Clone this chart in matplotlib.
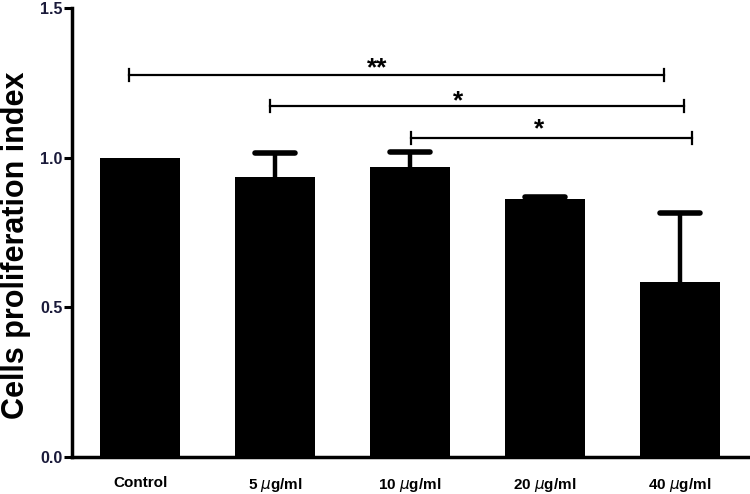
import numpy as np
import matplotlib
matplotlib.use('Agg')
import matplotlib.pyplot as plt

plt.rcParams['font.family'] = ['Liberation Sans', 'DejaVu Sans']

groups = ['Control', '5 $\\mu$g/ml', '10 $\\mu$g/ml', '20 $\\mu$g/ml', '40 $\\mu$g/ml']
means = [1.0, 0.935, 0.97, 0.86, 0.585]
sem = [0.0, 0.08, 0.05, 0.008, 0.23]

# significance brackets (x in category units, y in data units)
brk_start = [-0.08, 0.96, 2.01]
brk_end = [3.88, 4.03, 4.09]
brk_y = [1.276, 1.173, 1.066]
brk_text_x = [1.76, 2.36, 2.955]
brk_text_y = [1.316, 1.206, 1.113]
brk_label = ['**', '*', '*']

fig = plt.figure(figsize=(7.5, 4.94), dpi=100)
ax = fig.add_axes([0.096, 0.075, 0.904, 0.909])

x = np.arange(len(groups))
m = np.array(means)
s = np.array(sem)
ax.bar(x, m, width=0.59, color='black', zorder=2)
# upper-only error bars, skip the ones with no spread
has_err = s > 0
ax.vlines(x[has_err], m[has_err], m[has_err] + s[has_err], color='black', lw=3.2, zorder=1)
ax.hlines(m[has_err] + s[has_err], x[has_err] - 0.15, x[has_err] + 0.15, color='black',
          lw=4, capstyle='round', zorder=3)

for s0, e0, y, tx, ty, lab in zip(brk_start, brk_end, brk_y, brk_text_x, brk_text_y, brk_label):
    ax.plot([s0, e0], [y, y], color='black', lw=1.6)
    ax.plot([s0, s0], [y - 0.02, y + 0.02], color='black', lw=1.6)
    ax.plot([e0, e0], [y - 0.02, y + 0.02], color='black', lw=1.6)
    # star glyph sits ~0.04 data units above its baseline
    ax.text(tx, ty - 0.041, lab, ha='center', va='baseline', fontsize=19, fontweight='bold')

ax.set_xlim(-0.505, 4.52)
ax.set_ylim(0, 1.5)
ax.set_yticks([0.0, 0.5, 1.0, 1.5])
ax.set_yticklabels(['0.0', '0.5', '1.0', '1.5'], fontsize=11.5, fontweight='bold', color='#1a1a3a')
ax.set_xticks(x)
ax.set_xticklabels(groups, fontsize=11, fontweight='bold')
ax.tick_params(axis='x', length=0, pad=14)
ax.tick_params(axis='y', length=6, width=2.2, direction='out', pad=1)
ax.set_ylabel('Cells proliferation index', fontsize=22, fontweight='bold')
ax.yaxis.set_label_coords(-0.06, 0.472)

for side in ['top', 'right']:
    ax.spines[side].set_visible(False)
for side in ['left', 'bottom']:
    ax.spines[side].set_linewidth(2.5)

fig.savefig('out.png', dpi=100)
plt.close()
